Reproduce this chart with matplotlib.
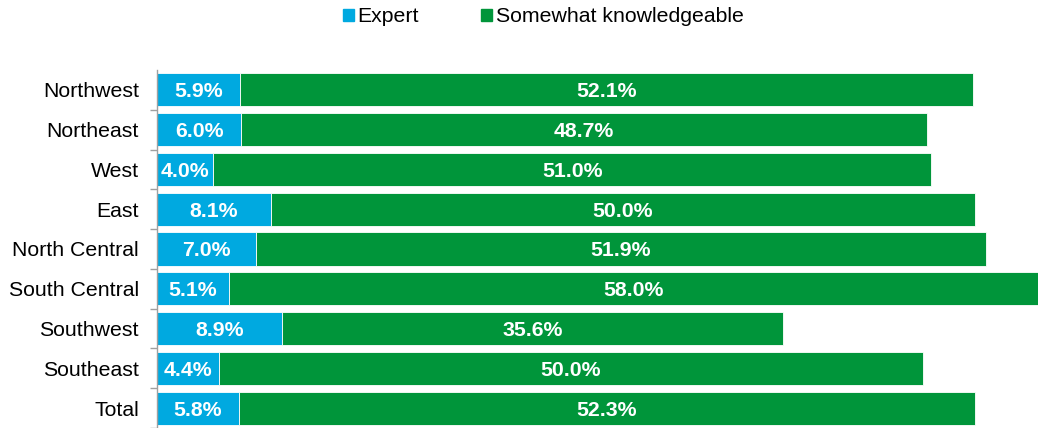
import matplotlib.pyplot as plt
import numpy as np
from matplotlib.patches import Patch

plt.rcParams['font.family'] = ['Liberation Sans', 'DejaVu Sans']

regions = ["Northwest", "Northeast", "West", "East", "North Central",
           "South Central", "Southwest", "Southeast", "Total"]
expert = [5.9, 6.0, 4.0, 8.1, 7.0, 5.1, 8.9, 4.4, 5.8]
somewhat = [52.1, 48.7, 51.0, 50.0, 51.9, 58.0, 35.6, 50.0, 52.3]

blue = '#00A9E0'
green = '#00953A'
fs = 15.3

fig = plt.figure(figsize=(10.38, 4.28), dpi=100)
ax = fig.add_axes([157 / 1038, 0.0, 1 - 157 / 1038, 358 / 428])

y = np.arange(len(regions))[::-1]
xmax = 62.6

ax.barh(y, expert, height=0.83, color=blue, edgecolor='white', linewidth=0.6)
ax.barh(y, somewhat, left=expert, height=0.83, color=green, edgecolor='white', linewidth=0.6)

for yi, e, s in zip(y, expert, somewhat):
    ax.text(e / 2, yi, f"{e:.1f}%", ha='center', va='center_baseline', color='white',
            fontsize=fs, fontweight='bold')
    right = min(e + s, xmax)
    ax.text((e + right) / 2, yi, f"{s:.1f}%", ha='center', va='center_baseline', color='white',
            fontsize=fs, fontweight='bold')

ax.set_xlim(0, xmax)
ax.set_ylim(-0.45, len(regions) - 0.5)
ax.set_yticks(y)
ax.set_yticklabels(regions, fontsize=fs)
ax.set_yticks(np.arange(len(regions)) - 0.5, minor=True)
ax.tick_params(axis='y', which='major', length=0, pad=13)
ax.tick_params(axis='y', which='minor', length=5, color='#A0A0A0', width=1)
ax.set_xticks([])
for side in ['top', 'right', 'bottom']:
    ax.spines[side].set_visible(False)
ax.spines['left'].set_color('#A0A0A0')
ax.spines['left'].set_linewidth(1)

handles = [Patch(color=blue, label='Expert'), Patch(color=green, label='Somewhat knowledgeable')]
fig.legend(handles=handles, loc='center', bbox_to_anchor=(543 / 1038, 1 - 17 / 428), ncol=2,
           frameon=False, fontsize=fs, handlelength=0.55, handleheight=0.55,
           handletextpad=0.15, columnspacing=2.9, borderpad=0)

fig.savefig('out.png', dpi=100)
